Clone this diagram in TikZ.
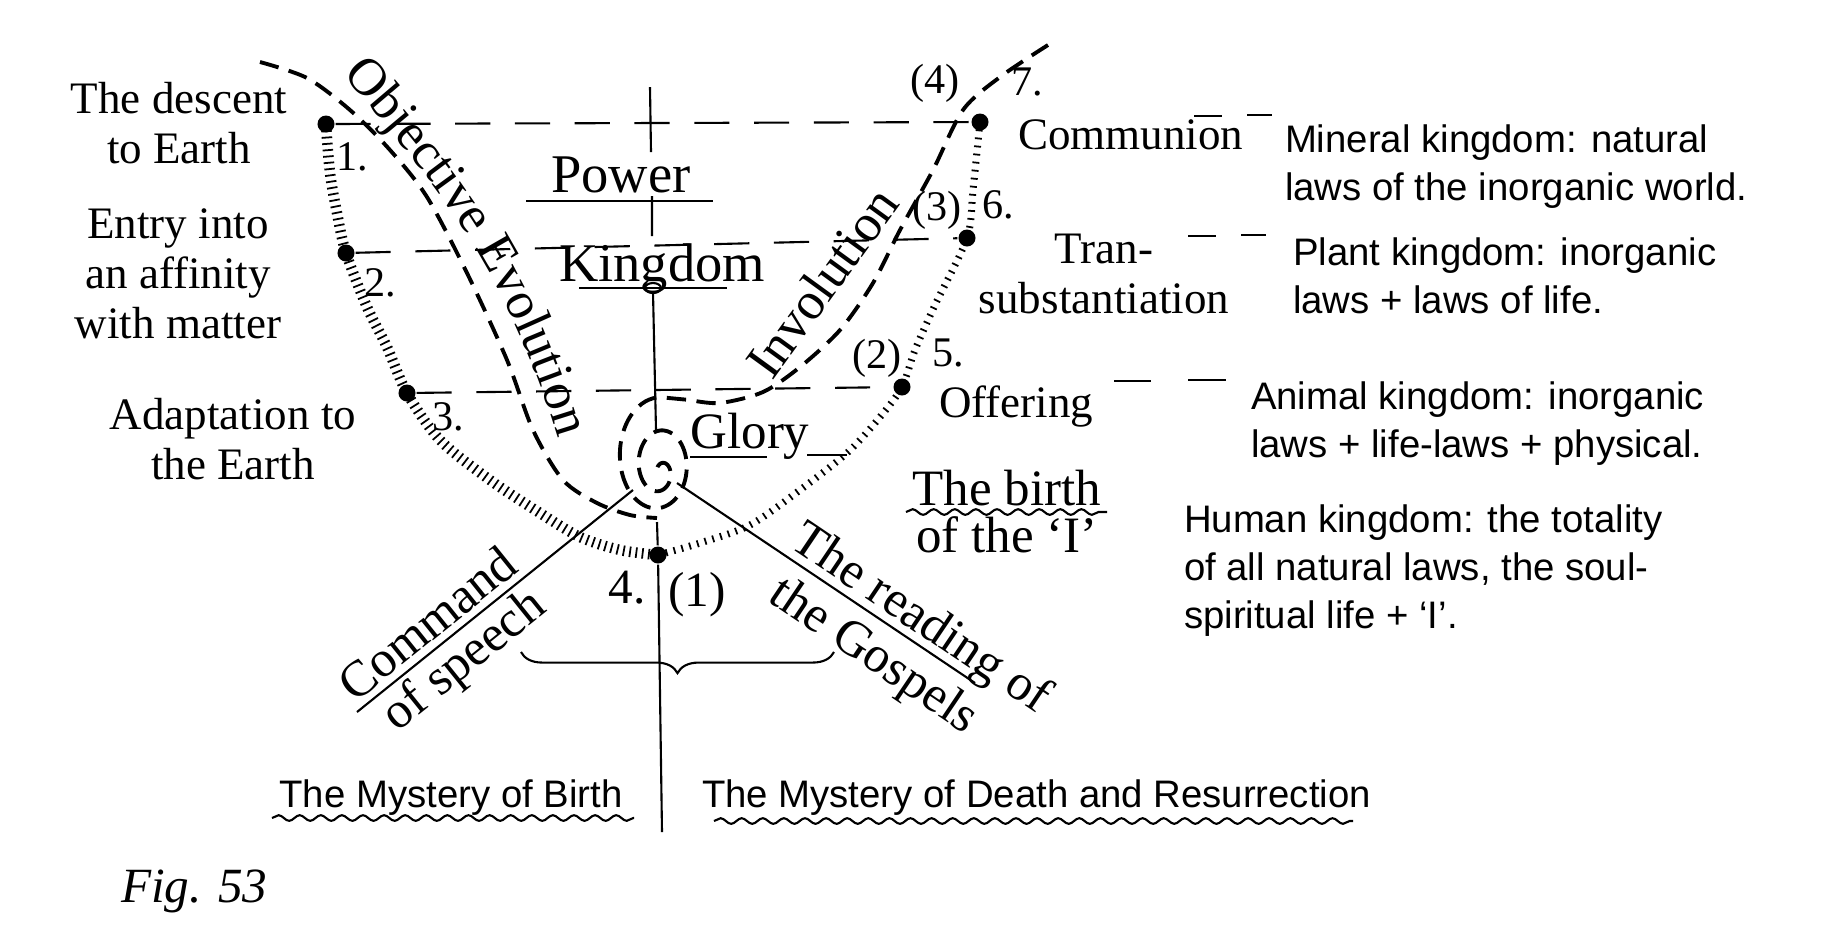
\documentclass[tikz,border=0pt]{standalone}
\usepackage{fontspec}
\setmainfont{Liberation Serif}
\setsansfont{Liberation Sans}
\usetikzlibrary{decorations.pathreplacing,decorations.pathmorphing,decorations.text}

\tikzset{
  lbl/.style={font=\fontsize{12.8}{14.2}\selectfont, inner sep=0pt, align=center},
  big/.style={font=\fontsize{15.5}{17}\selectfont, inner sep=0pt},
  slant/.style={font=\fontsize{14.5}{13.3}\selectfont, inner sep=0pt},
  num/.style={font=\fontsize{12}{14}\selectfont, inner sep=0pt},
  note/.style={font=\sffamily\fontsize{10.9}{13.6}\selectfont, inner sep=0pt, align=left, anchor=base west},
  dot/.style={circle, fill, inner sep=0pt, minimum size=0.17cm},
  level/.style={line width=0.6pt, dash pattern=on 10pt off 7pt},
  evo/.style={line width=1.1pt, dash pattern=on 5.5pt off 3pt},
  hatch/.style={line width=3pt, dash pattern=on 0.5pt off 1.3pt},
  thinhatch/.style={line width=2pt, dash pattern=on 0.5pt off 1.8pt},
  wave/.style={decorate, decoration={snake, amplitude=0.8pt, segment length=6pt}, line width=0.6pt}
}

\begin{document}
\begin{tikzpicture}[x=0.01cm, y=-0.01cm, line width=0.6pt]
\useasboundingbox (0,0) rectangle (1823,947);

\node[dot] (d1) at (326,124) {};
\node[dot] (d2) at (346,253) {};
\node[dot] (d3) at (407,393) {};
\node[dot] (d4) at (658,555) {};
\node[dot] (d5) at (902,387) {};
\node[dot] (d6) at (967,238) {};
\node[dot] (d7) at (980,122) {};

\draw[level] (d1) -- (d7);
\draw[level] (d2) -- (d6);
\draw[level] (d3) -- (d5);
\draw (1194,116) -- (1222,116) (1247,115) -- (1272,115);
\draw (1188,236) -- (1216,236) (1241,235) -- (1266,235);
\draw (1114,381) -- (1151,381) (1188,380) -- (1226,380);

\draw (650,87) -- (651,152) (652,196) -- (652,236) (653,292) -- (656,430) (657,522) -- (d4) -- (662,832);

\draw[hatch] plot[smooth] coordinates {(d1) (330,173) (337,213) (d2) (367,307) (387,347) (d3) (440,440) (490,480) (540,513) (580,537) (620,550) (d4)};
\draw[thinhatch] plot[smooth] coordinates {(d4) (700,543) (750,525) (800,490) (848,452) (880,417) (d5) (915,350) (935,305) (d6) (973,190) (d7)};

\draw[evo] plot[smooth] coordinates {(260,62) (307,78) (350,110) (390,150) (427,197) (467,273) (507,360) (533,430) (563,480) (597,503) (630,515) (657,518)};
\draw[evo] plot[smooth] coordinates {(1048,45) (1000,77) (963,110) (933,170) (900,230) (873,283) (840,330) (800,367) (763,392) (720,403) (690,400)}
  -- plot[domain=0:1, samples=150, smooth] ({657+3*\x+(42-39*\x)*cos(85+800*\x)}, {457+18*\x-(60-56*\x)*sin(85+800*\x)});

\coordinate (cmdtop) at (633,490);
\coordinate (cmdend) at (357,712);
\coordinate (gostop) at (677,483);
\coordinate (gosend) at (975,683);
\draw (cmdtop) -- (cmdend);
\draw (gostop) -- (gosend);

\path[decorate, decoration={text along path, text align=center, text={|\fontsize{15}{15}\selectfont|Objective Evolution}}] (333,64) .. controls (420,165) and (505,255) .. (562,452);
\node[big, font=\fontsize{15}{17}\selectfont, rotate=54] (invo) at (822,282) {Involution};

\node[big, anchor=base] (power) at (621,192) {Power};
\node[big, anchor=base] (kingdom) at (662,281) {Kingdom};
\node[slant, anchor=base] (glory) at (750,448) {Glory};
\draw (526,201) -- (713,201);
\draw (579,288) -- (727,288);
\draw (653,288) ellipse [x radius=0.08cm, y radius=0.05cm];
\draw (690,457) -- (767,457) (807,455) -- (847,455);

\node[lbl, anchor=base] (descent) at (179,163) {The descent\\to Earth};
\node[lbl, anchor=base] (entry) at (178,338) {Entry into\\an affinity\\with matter};
\node[lbl, anchor=base] (adapt) at (233,479) {Adaptation to\\the Earth};
\node[lbl, anchor=base west] (commun) at (1017,149) {Communion};
\node[lbl, anchor=base] (trans) at (1104,313) {Tran-\\substantiation};
\node[lbl, anchor=base west] (offer) at (938,417) {Offering};
\node[slant, align=center, anchor=base] (birth) at (1007,552) {The birth\\of the ‘I’};
\draw[wave] (906,512) -- (1107,512);

\node[num] (n1) at (352,157) {1.};
\node[num] (n2) at (380,283) {2.};
\node[num] (n3) at (448,417) {3.};
\node[num, font=\fontsize{14}{16}\selectfont] (n4) at (627,588) {4.};
\node[num, font=\fontsize{14}{16}\selectfont] (p1) at (697,595) {(1)};
\node[num] (p2) at (877,358) {(2)};
\node[num] (n5) at (948,353) {5.};
\node[num] (p3) at (937,210) {(3)};
\node[num] (n6) at (998,205) {6.};
\node[num] (p4) at (935,83) {(4)};
\node[num] (n7) at (1027,82) {7.};

\node[slant, rotate=38.8] (cmd) at (427,623) {Command};
\node[slant, rotate=38.8] (speech) at (465,662) {of speech};
\node[slant, rotate=-34] (reading) at (920,620) {The reading of};
\node[slant, rotate=-34] (gospels) at (873,657) {the Gospels};
\draw[decorate, decoration={brace, amplitude=6pt}] (834,652) -- (521,652);

\node[note] (mineral) at (1284,200) {Mineral kingdom: natural\\laws of the inorganic world.};
\node[note] (plant) at (1292,313) {Plant kingdom: inorganic\\laws + laws of life.};
\node[note] (animal) at (1250,457) {Animal kingdom: inorganic\\laws + life-laws + physical.};
\node[note] (human) at (1183,628) {Human kingdom: the totality\\of all natural laws, the soul-\\spiritual life + ‘I’.};

\node[note, anchor=base] (mbirth) at (451,807) {The Mystery of Birth};
\node[note] (mdeath) at (701,807) {The Mystery of Death and Resurrection};
\draw[wave] (272,818) -- (634,818);
\draw[wave] (714,821) -- (1353,821);

\node[font=\itshape\fontsize{14}{16}\selectfont, anchor=base west, inner sep=0pt] (fig) at (120,902) {Fig. 53};
\end{tikzpicture}
\end{document}
